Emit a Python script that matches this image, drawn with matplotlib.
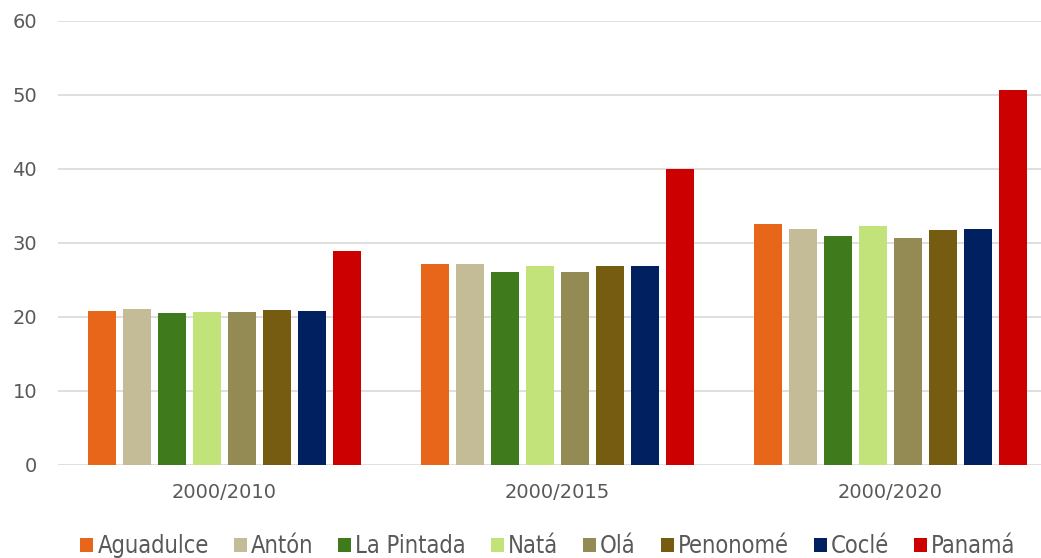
import numpy as np
import matplotlib
matplotlib.use('Agg')
import matplotlib.pyplot as plt
from matplotlib.patches import Patch

periods = ['2000/2010', '2000/2015', '2000/2020']
places = ['Aguadulce', 'Antón', 'La Pintada', 'Natá', 'Olá', 'Penonomé', 'Coclé', 'Panamá']
aguadulce = [20.8, 27.1, 32.5]
anton = [21.1, 27.1, 31.8]
la_pintada = [20.5, 26.1, 30.9]
nata = [20.7, 26.9, 32.2]
ola = [20.6, 26.0, 30.7]
penonome = [20.9, 26.8, 31.7]
cocle = [20.85, 26.8, 31.8]
panama = [28.9, 40.0, 50.65]
series = [aguadulce, anton, la_pintada, nata, ola, penonome, cocle, panama]
colors = ['#E8661A', '#C4BC96', '#3F7A1C', '#C2E379', '#948A54', '#765C10', '#002060', '#CC0000']

W, H = 1041, 558
fig = plt.figure(figsize=(W / 100, H / 100), dpi=100)
ax = fig.add_axes([58 / W, 93 / H, 998.5 / W, 444.5 / H])

pitch = 35 / 333
width = 28 / 333
x = np.arange(len(periods))
for i, (vals, c) in enumerate(zip(series, colors)):
    offs = (i - 3.5) * pitch
    ax.bar(x + offs, vals, width=width, color=c, zorder=3)

ax.set_xlim(-0.5, 2.5)
ax.set_ylim(0, 60)
ax.set_yticks(range(0, 61, 10))
ax.set_xticks(x)
ax.set_xticklabels(periods)
ax.yaxis.grid(True, color='#D9D9D9', linewidth=1.2, zorder=0)
for s in ax.spines.values():
    s.set_visible(False)
ax.tick_params(axis='both', length=0, labelsize=14, labelcolor='#595959')
ax.tick_params(axis='y', pad=15)
ax.tick_params(axis='x', pad=13)

handles = [Patch(facecolor=c, edgecolor='none') for c in colors]
fig.legend(handles, places, loc='center', bbox_to_anchor=(548 / W, 12 / H), ncol=8,
           frameon=False, handlelength=0.55, handleheight=0.55, handletextpad=0.17,
           columnspacing=1.06, borderaxespad=0,
           prop={'family': 'DejaVu Sans', 'stretch': 'condensed', 'size': 17})
for t in fig.legends[0].get_texts():
    t.set_color('#595959')

fig.savefig('out.png', dpi=100)
